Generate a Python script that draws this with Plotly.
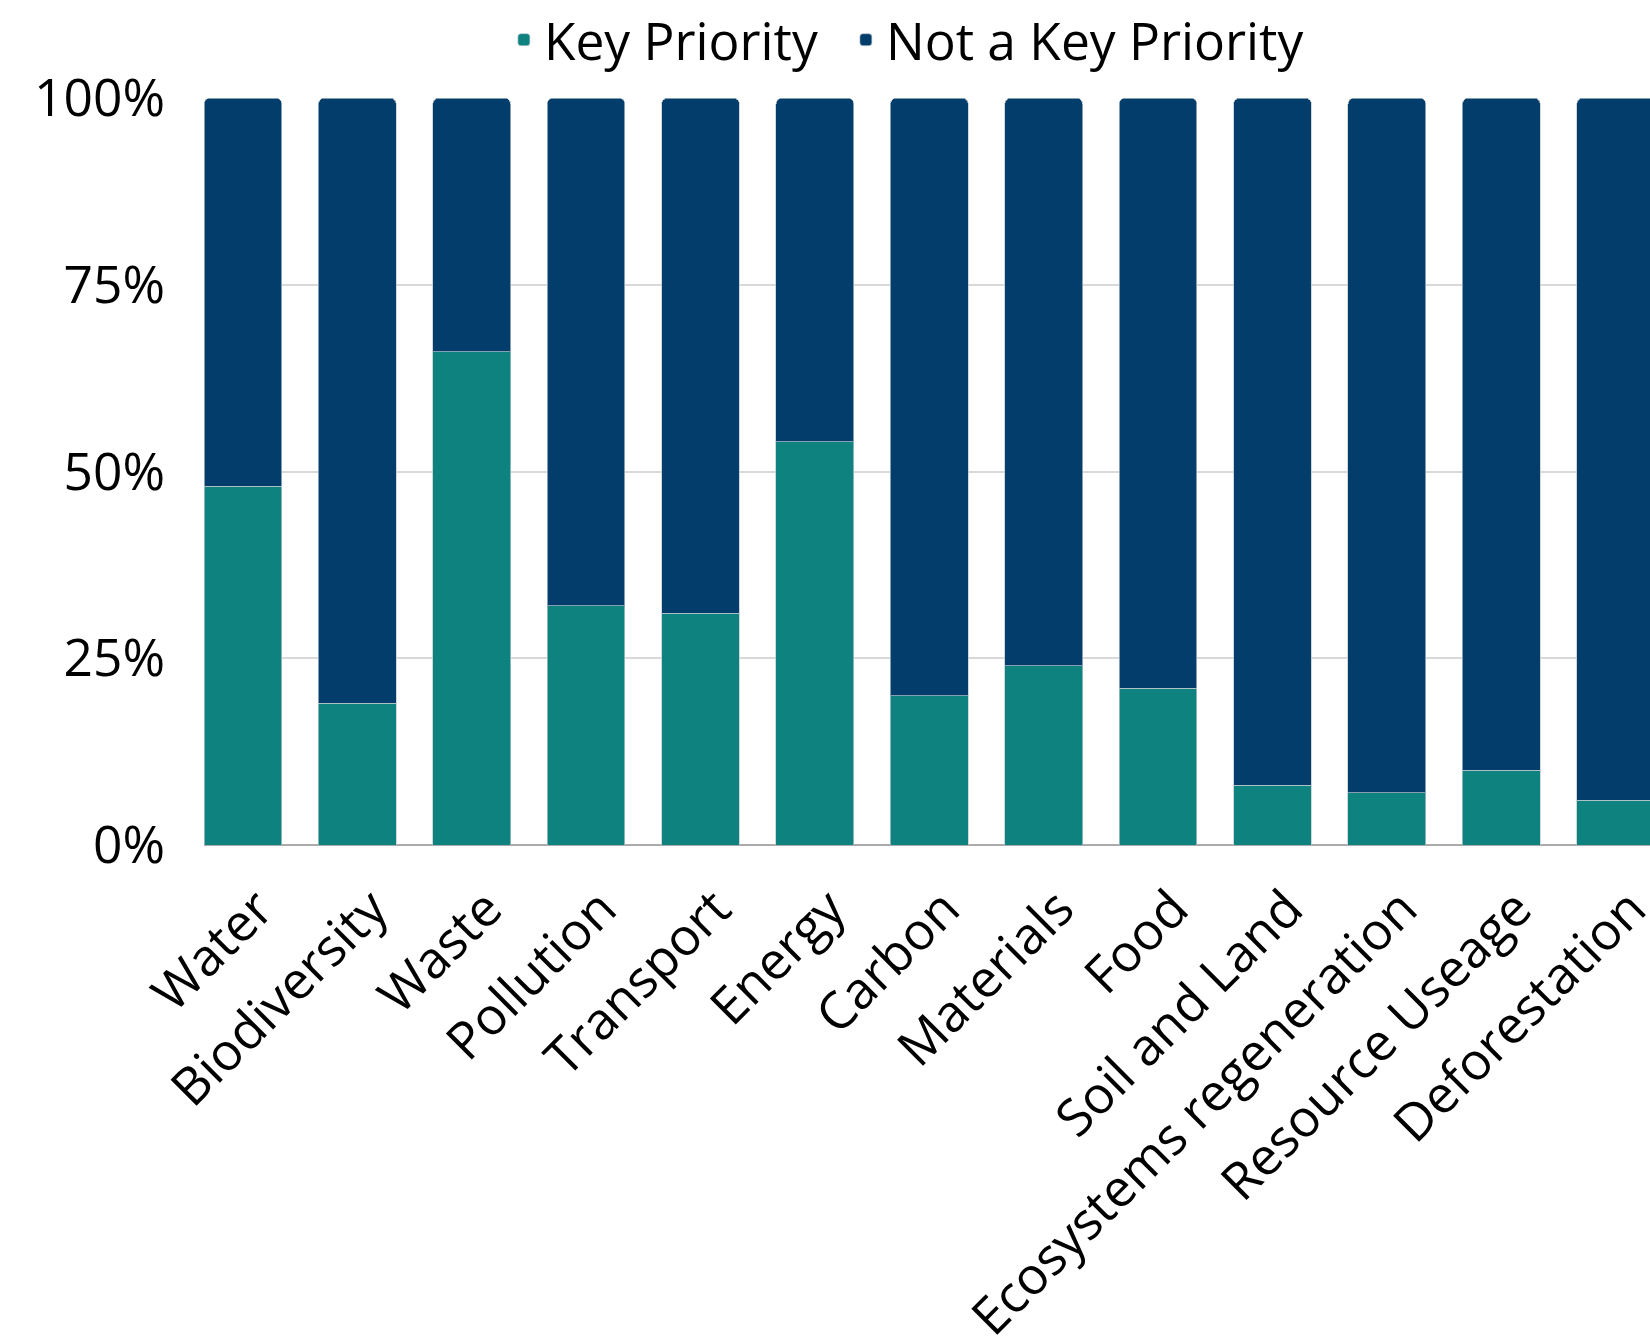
import plotly.graph_objects as go

# Survey topics and share of respondents naming each as a key priority (%)
categories = [
    "Water", "Biodiversity", "Waste", "Pollution", "Transport", "Energy",
    "Carbon", "Materials", "Food", "Soil and Land", "Ecosystems regeneration",
    "Resource Useage", "Deforestation",
]
key_priority = [48, 19, 66, 32, 31, 54, 20, 24, 21, 8, 7, 10, 6]
not_key_priority = [100 - v for v in key_priority]
y_ticks = [0, 25, 50, 75, 100]
y_tick_labels = ["0%", "25%", "50%", "75%", "100%"]

TEAL = "#0E827E"
NAVY = "#023D6B"
FONT = "Open Sans"
FS = 51.5

fig = go.Figure()
fig.add_trace(go.Bar(
    x=categories, y=key_priority, name="Key Priority",
    marker=dict(color=TEAL, line=dict(color="rgba(190,200,205,0.7)", width=1)),
    width=0.68, legend="legend",
))
fig.add_trace(go.Bar(
    x=categories, y=not_key_priority, name="Not a Key Priority",
    marker=dict(color=NAVY, line=dict(color="rgba(190,200,205,0.7)", width=1)),
    width=0.68, legend="legend2",
))

legend_style = dict(
    orientation="h", xanchor="left", y=1.078, yanchor="middle",
    font=dict(family=FONT, size=FS, color="#000000"),
    itemwidth=30, bgcolor="rgba(0,0,0,0)",
)

fig.update_layout(
    barmode="stack",
    barcornerradius=6,
    width=1650, height=1337,
    margin=dict(l=204, r=0, t=98, b=492, pad=0, autoexpand=False),
    paper_bgcolor="white", plot_bgcolor="white",
    font=dict(family=FONT, size=FS, color="#000000"),
    legend=dict(x=0.2074, **legend_style),
    legend2=dict(x=0.4439, **legend_style),
    showlegend=True,
)

fig.update_xaxes(
    type="category",
    range=[-0.34, 12.30],
    tickangle=-45,
    showgrid=False,
    showline=False,
    ticks="",
    ticklabelstandoff=22,
    ticklabelshift=15,
    automargin=False,
    tickfont=dict(family=FONT, size=FS, color="#000000"),
    zeroline=False,
)
fig.update_yaxes(
    range=[0, 100],
    tickvals=y_ticks,
    ticktext=y_tick_labels,
    showgrid=True, gridcolor="#D9D9D9", gridwidth=1.5,
    zeroline=True, zerolinecolor="#ABABAB", zerolinewidth=2,
    showline=False, ticks="",
    ticklabelstandoff=38,
    automargin=False,
    tickfont=dict(family=FONT, size=FS, color="#000000"),
)

fig.write_html("out.html")
